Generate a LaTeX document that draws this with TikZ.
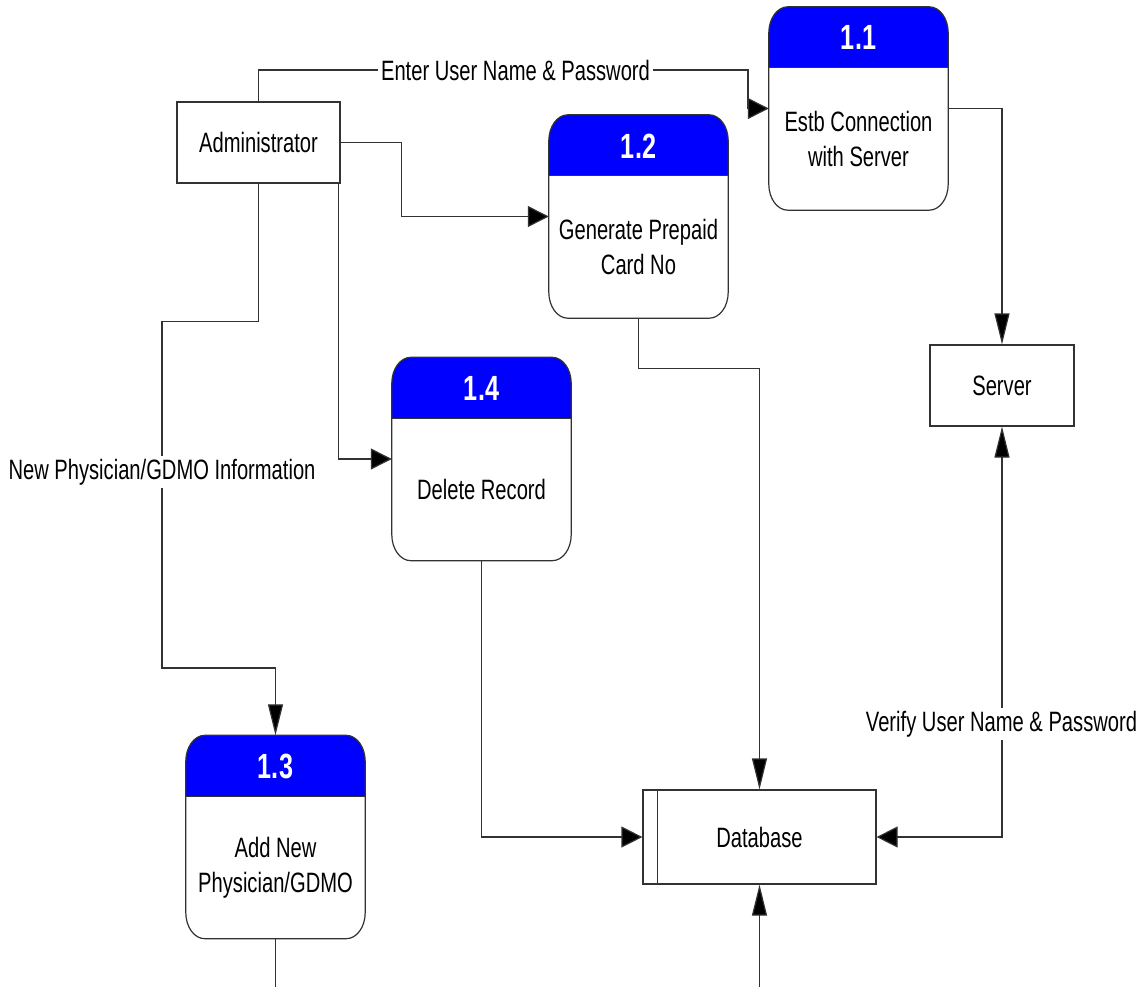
\documentclass[tikz,border=0pt]{standalone}
\usepackage{fontspec}
\setmainfont{Liberation Sans}[FakeStretch=0.72]
\usetikzlibrary{arrows.meta,calc}
\definecolor{hdrblue}{RGB}{0,0,255}
\definecolor{ln}{RGB}{50,50,50}
\tikzset{
  procbox/.style={minimum width=179pt, minimum height=203pt, inner sep=0pt},
  boxln/.style={draw=ln, line width=1.2pt},
  plainbox/.style={draw=ln, line width=1.2pt, inner sep=0pt, font=\fontsize{28}{35}\selectfont},
  numtxt/.style={text=white, font=\fontsize{35}{38}\selectfont\bfseries, inner sep=0pt},
  bodytxt/.style={align=center, font=\fontsize{28}{35}\selectfont, inner sep=0pt},
  lbl/.style={fill=white, inner sep=3pt, font=\fontsize{28}{35}\selectfont},
  vtip/.tip={Triangle[length=31pt,width=15pt,fill=black]},
  htip/.tip={Triangle[length=21pt,width=21pt,fill=black]},
  flowv/.style={draw=ln, line width=1.2pt, -vtip},
  flowh/.style={draw=ln, line width=1.2pt, -htip},
  biflow/.style={draw=ln, line width=1.2pt, vtip-htip},
  plainline/.style={draw=ln, line width=1.2pt},
  crn/.style={x radius=19pt, y radius=26pt},
}
\newcommand\procnode[5]{%
  \node[procbox] (#1) at (#2,#3) {};
  \fill[hdrblue] ($(#1.north west)+(0,61)$) -- ($(#1.north west)+(0,26)$)
     arc[start angle=180,end angle=90,crn] -- ($(#1.north east)+(-19,0)$)
     arc[start angle=90,end angle=0,crn] -- ($(#1.north east)+(0,61)$) -- cycle;
  \draw[boxln] ($(#1.north west)+(0,61)$) -- ($(#1.north east)+(0,61)$);
  \draw[boxln] ($(#1.north west)+(19,0)$) -- ($(#1.north east)+(-19,0)$)
     arc[start angle=90,end angle=0,crn] -- ($(#1.south east)+(0,-26)$)
     arc[start angle=0,end angle=-90,crn] -- ($(#1.south west)+(19,0)$)
     arc[start angle=270,end angle=180,crn] -- ($(#1.north west)+(0,26)$)
     arc[start angle=180,end angle=90,crn] -- cycle;
  \node[numtxt] (#1n) at ($(#1.north)+(0,31)$) {#4};
  \node[bodytxt] (#1t) at ($(#1.center)+(0,30.5)$) {#5};
}
\begin{document}
\begin{tikzpicture}[x=1pt,y=-1pt]
\useasboundingbox[fill=white] (0,0) rectangle (1148,987);

% processes
\procnode{p11}{858.5}{108.5}{1.1}{Estb Connection\\with Server}
\procnode{p12}{638.5}{216.5}{1.2}{Generate Prepaid\\Card No}
\procnode{p14}{481.5}{459}{1.4}{Delete Record}
\procnode{p13}{275.5}{837}{1.3}{Add New\\Physician/GDMO}

% entities and store
\node[plainbox, minimum width=163pt, minimum height=81pt] (adm) at (258.5,142.5) {Administrator};
\node[plainbox, minimum width=144pt, minimum height=81pt] (srv) at (1002,385.5) {Server};
\node[plainbox, minimum width=233pt, minimum height=94pt] (db) at (759.5,837) {Database};
\draw[plainline] ([xshift=15pt]db.north west) -- ([xshift=15pt]db.south west);

\coordinate (e13) at (275.5,987);
\coordinate (edb) at (759.5,987);

% flows
\draw[flowh] (adm.north) |- (748,70) |- (p11.west);
\node[lbl] (lenter) at (515.5,70) {Enter User Name \& Password};

\draw[flowh] (adm.east) -- ++(61,0) |- (p12.west);
\draw[flowh] ([xshift=-2pt]adm.south east) |- (p14.west);
\draw[flowv] (adm.south) -- ++(0,138) -| (162,668) -| (p13.north);
\node[lbl] (lnew) at (162,472) {New Physician/GDMO Information};

\draw[flowv] (p11.east) -| (srv.north);
\draw[flowv] (p12.south) -- ++(0,50) -| (db.north);
\draw[flowh] (p14.south) |- (db.west);
\draw[biflow] (srv.south) |- (db.east);
\node[lbl] (lver) at (1001.5,724) {Verify User Name \& Password};

\draw[plainline] (p13.south) -- (e13);
\draw[flowv] (edb) -- (db.south);
\end{tikzpicture}
\end{document}
